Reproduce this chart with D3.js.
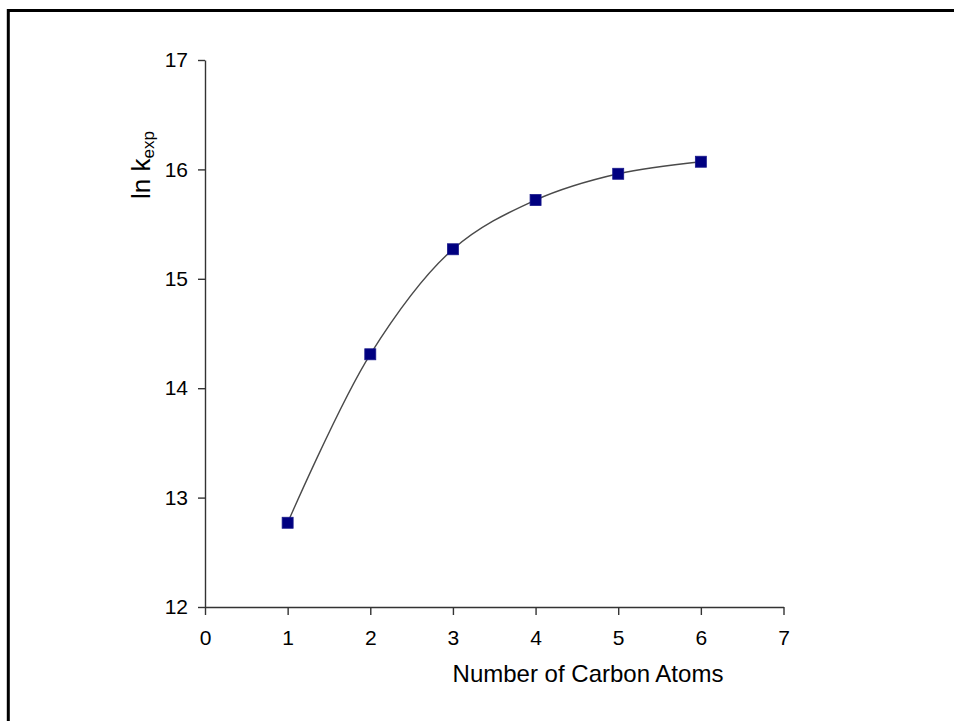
<!DOCTYPE html>
<html>
<head>
<meta charset="utf-8">
<script src="https://cdn.jsdelivr.net/npm/d3@7"></script>
<style>
  html, body { margin: 0; padding: 0; background: #fff; }
  svg { display: block; font-family: "Liberation Sans", Arial, sans-serif; }
</style>
</head>
<body>
<svg id="chart" width="954" height="721"></svg>
<script>
// Rate constants (ln k_exp) against alkyl chain length
const carbonAtoms = [1, 2, 3, 4, 5, 6];
const lnKexp = [12.77, 14.31, 15.27, 15.72, 15.96, 16.07];
const xTicks = [0, 1, 2, 3, 4, 5, 6, 7];
const yTicks = [12, 13, 14, 15, 16, 17];

const svg = d3.select("#chart");

// Frame around the slide area
svg.append("path")
  .attr("d", "M8.3,721 V10.5 H954")
  .attr("fill", "none")
  .attr("stroke", "#000")
  .attr("stroke-width", 3);

const x = d3.scaleLinear().domain([0, 7]).range([205, 783.5]);
const y = d3.scaleLinear().domain([12, 17]).range([607, 60]);

const axisColor = "#333";
const tickFont = 21;

// X axis
const gx = svg.append("g")
  .attr("transform", `translate(0,${y(12)})`)
  .call(d3.axisBottom(x).tickValues(xTicks).tickFormat(d3.format("d"))
    .tickSize(8).tickSizeOuter(0).tickPadding(15));
gx.select(".domain").attr("stroke", axisColor).attr("stroke-width", 1.4);
gx.selectAll(".tick line").attr("stroke", axisColor).attr("stroke-width", 1.4);
gx.selectAll(".tick text")
  .attr("font-size", tickFont).attr("fill", "#000")
  .attr("font-family", "Liberation Sans, Arial, sans-serif");

// Y axis
const gy = svg.append("g")
  .attr("transform", `translate(${x(0)},0)`)
  .call(d3.axisLeft(y).tickValues(yTicks).tickFormat(d3.format("d"))
    .tickSize(7).tickSizeOuter(0).tickPadding(10));
gy.select(".domain").attr("stroke", axisColor).attr("stroke-width", 1.4);
gy.selectAll(".tick line").attr("stroke", axisColor).attr("stroke-width", 1.4);
gy.selectAll(".tick text")
  .attr("font-size", tickFont).attr("fill", "#000")
  .attr("font-family", "Liberation Sans, Arial, sans-serif");

// Smoothed curve through the measured points
const pts = carbonAtoms.map((c, i) => [c, lnKexp[i]]);
const line = d3.line()
  .x(d => x(d[0]))
  .y(d => y(d[1]))
  .curve(d3.curveCatmullRom.alpha(0.5));

svg.append("path")
  .datum(pts)
  .attr("d", line)
  .attr("fill", "none")
  .attr("stroke", "#4a4a4a")
  .attr("stroke-width", 1.4);

// Square markers
const ms = 11;
svg.append("g").selectAll("rect")
  .data(pts)
  .join("rect")
  .attr("x", d => x(d[0]) - ms / 2)
  .attr("y", d => y(d[1]) - ms / 2)
  .attr("width", ms)
  .attr("height", ms)
  .attr("fill", "#000080")
  .attr("stroke", "#1a1a8c")
  .attr("stroke-width", 0.8);

// Axis titles
svg.append("text")
  .attr("x", 588)
  .attr("y", 681.5)
  .attr("text-anchor", "middle")
  .attr("font-size", 24)
  .attr("fill", "#000")
  .text("Number of Carbon Atoms");

const yt = svg.append("text")
  .attr("transform", "translate(150,165) rotate(-90)")
  .attr("text-anchor", "middle")
  .attr("font-size", 26)
  .attr("fill", "#000");
yt.append("tspan").text("ln k");
yt.append("tspan").attr("font-size", 17).attr("dy", 4).text("exp");
</script>
</body>
</html>
